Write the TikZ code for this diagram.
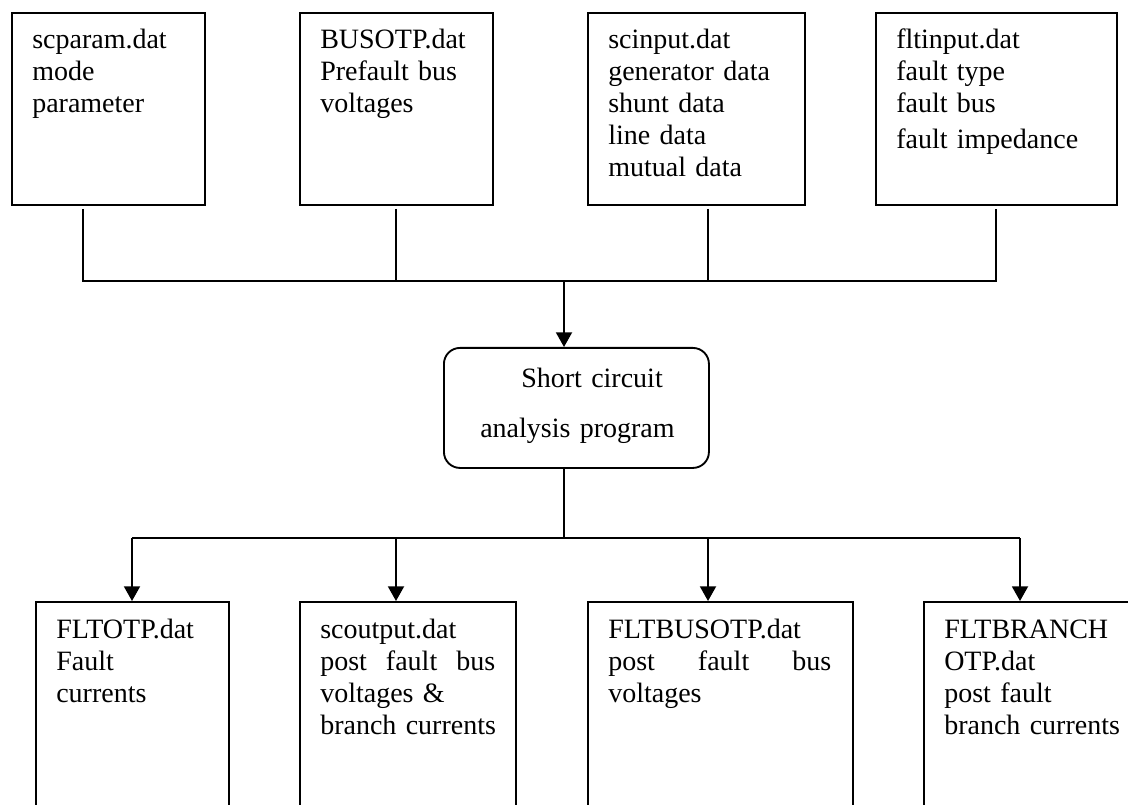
\documentclass[tikz,border=0pt]{standalone}
\usepackage{fontspec}
\setmainfont{Liberation Serif}
\usetikzlibrary{arrows.meta}
\tikzset{
  boxshape/.style={draw, line width=1.4pt, anchor=north west, inner sep=0pt, rectangle},
  procbox/.style={draw, line width=1.4pt, anchor=north west, inner sep=0pt, rectangle, rounded corners=12pt},
  txt/.style={anchor=base west, inner sep=0pt, align=left, text width=230pt,
    font=\fontsize{21}{24}\selectfont},
  conn/.style={line width=1.4pt},
  arr/.style={line width=1.4pt, -{Triangle[length=11pt,width=12pt]}}
}
\begin{document}
\begin{tikzpicture}[x=0.75pt,y=-0.75pt]
\useasboundingbox (0,0) rectangle (1128,805);
\clip (0,0) rectangle (1128,805);
% top boxes
\node[boxshape, minimum width=144.75pt, minimum height=144pt] (t1) at (11,12) {};
\node[boxshape, minimum width=144.75pt, minimum height=144pt] (t2) at (299,12) {};
\node[boxshape, minimum width=162.75pt, minimum height=144pt] (t3) at (587,12) {};
\node[boxshape, minimum width=180.75pt, minimum height=144pt] (t4) at (875,12) {};
\node[txt] (t1txt) at (32,49) {scparam.dat\\mode\\parameter};
\node[txt] (t2txt) at (320,49) {BUSOTP.dat\\Prefault bus\\voltages};
\node[txt] (t3txt) at (608,49) {scinput.dat\\generator data\\shunt data\\line data\\mutual data};
\node[txt] (t4txt) at (896,49) {fltinput.dat\\fault type\\fault bus\\[2.5pt]fault impedance};
% center box
\node[procbox, minimum width=198.75pt, minimum height=90pt] (c) at (443,347) {};
\node[txt] (c1) at (521,388) {Short circuit};
\node[txt] (c2) at (480,437) {analysis program};
% bottom boxes
\node[boxshape, minimum width=144.75pt, minimum height=172.5pt] (b1) at (35,601) {};
\node[boxshape, minimum width=162pt, minimum height=172.5pt] (b2) at (299,601) {};
\node[boxshape, minimum width=198.75pt, minimum height=172.5pt] (b3) at (587,601) {};
\node[boxshape, minimum width=162.75pt, minimum height=172.5pt] (b4) at (923,601) {};
\node[txt] (b1txt) at (56,638) {FLTOTP.dat\\Fault\\currents};
\node[txt] (b2txt) at (320,638) {scoutput.dat\\\makebox[131.25pt][s]{post\hfill fault\hfill bus}\\voltages \&\\branch currents};
\node[txt] (b3txt) at (608,638) {FLTBUSOTP.dat\\\makebox[167.25pt][s]{post\hfill fault\hfill bus}\\voltages};
\node[txt] (b4txt) at (944,638) {FLTBRANCH\\OTP.dat\\post fault\\branch currents};
% top connectors
\coordinate (s1) at (83,209);
\coordinate (s2) at (396,209);
\coordinate (s3) at (708,209);
\coordinate (s4) at (996,209);
\coordinate (h1) at (83,281);
\coordinate (h4) at (996,281);
\coordinate (ca) at (564,281);
\draw[conn] (s1) -- (h1) -- (h4) -- (s4);
\draw[conn] (s2) -- (s2 |- h1);
\draw[conn] (s3) -- (s3 |- h1);
\draw[arr] (ca) -- (ca |- c.north);
% bottom connectors
\coordinate (cb) at (564,538);
\coordinate (d1) at (132,538);
\coordinate (d2) at (396,538);
\coordinate (d3) at (708,538);
\coordinate (d4) at (1020,538);
\draw[conn] (cb |- c.south) -- (cb);
\draw[conn] (d1) -- (d4);
\draw[arr] (d1) -- (d1 |- b1.north);
\draw[arr] (d2) -- (d2 |- b2.north);
\draw[arr] (d3) -- (d3 |- b3.north);
\draw[arr] (d4) -- (d4 |- b4.north);
\end{tikzpicture}
\end{document}
